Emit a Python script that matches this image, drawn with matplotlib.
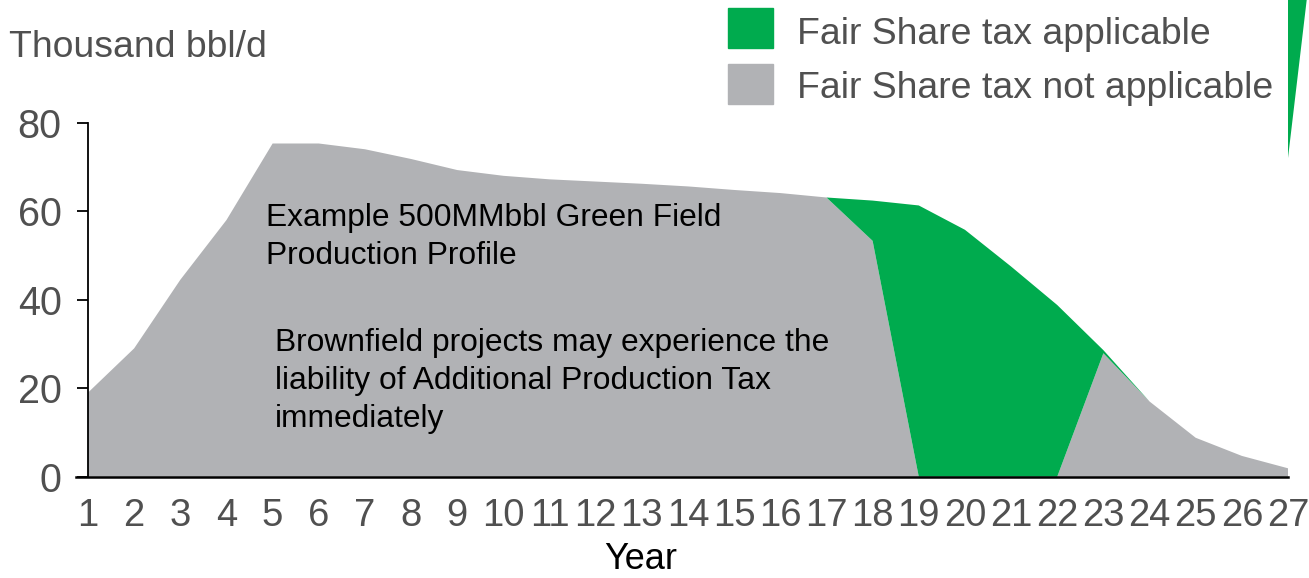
import numpy as np
import matplotlib.pyplot as plt
from matplotlib.patches import Rectangle, Polygon

plt.rcParams['font.family'] = ['Liberation Sans', 'DejaVu Sans']

W, H = 1309, 578

years = list(range(1, 28))
total = [19, 29, 44.5, 58, 75.3, 75.3, 74, 71.8, 69.3, 68, 67.2, 66.7, 66.2, 65.6,
         64.8, 64.1, 63.1, 62.4, 61.3, 55.8, 47.5, 38.8, 28.6, 17, 8.8, 4.7, 1.9]
not_applicable = [19, 29, 44.5, 58, 75.3, 75.3, 74, 71.8, 69.3, 68, 67.2, 66.7, 66.2, 65.6,
                  64.8, 64.1, 63.1, 53.3, 0, 0, 0, 0, 27.9, 17, 8.8, 4.7, 1.9]
applicable = [t - n for t, n in zip(total, not_applicable)]

green = '#00AB4E'
grey = '#B1B2B5'
txt_grey = '#505050'

fig = plt.figure(figsize=(W / 100, H / 100), dpi=100)
ax = fig.add_axes([88 / W, 1 - 476.7 / H, 1200 / W, 354 / H])

ax.stackplot(years, not_applicable, applicable, colors=[grey, green], linewidth=0)
ax.set_xlim(1, 27)
ax.set_ylim(0, 80)
ax.set_xticks(years)
ax.set_yticks([0, 20, 40, 60, 80])
ax.tick_params(axis='x', length=0, pad=15, labelsize=27.5, labelcolor=txt_grey)
ax.tick_params(axis='y', length=8, width=1.3, pad=11, labelsize=28.5, labelcolor=txt_grey)
for s in ['top', 'right']:
    ax.spines[s].set_visible(False)
ax.spines['left'].set_linewidth(1.3)
ax.spines['bottom'].set_linewidth(1.8)
ax.spines['bottom'].set_bounds(0.75, 27)
ax.set_axisbelow(False)

def px(x, y):
    return x / W, 1 - y / H

fig.text(*px(9, 56.7), 'Thousand bbl/d', fontsize=26.9, color=txt_grey, va='baseline', ha='left')
fig.text(*px(641, 569), 'Year', fontsize=26, color='black', va='baseline', ha='center')

ann1 = ['Example 500MMbbl Green Field', 'Production Profile']
ann2 = ['Brownfield projects may experience the', 'liability of Additional Production Tax',
        'immediately']
for i, line in enumerate(ann1):
    fig.text(*px(266, 226 + 38.3 * i), line, fontsize=22.9, color='black', va='baseline')
for i, line in enumerate(ann2):
    fig.text(*px(275, 350.7 + 38.3 * i), line, fontsize=22.9, color='black', va='baseline')

# legend
fig.add_artist(Rectangle(px(728, 48), 45 / W, 40 / H, transform=fig.transFigure, color=green))
fig.add_artist(Rectangle(px(728, 104), 45 / W, 40 / H, transform=fig.transFigure, color=grey))
fig.text(*px(797, 43.5), 'Fair Share tax applicable', fontsize=26.9, color=txt_grey, va='baseline')
fig.text(*px(797, 98.5), 'Fair Share tax not applicable', fontsize=26.9, color=txt_grey, va='baseline')

# cropped shape at top right
fig.add_artist(Polygon([px(1288, 0), px(1306.7, 0), px(1288, 158)], closed=True,
                       transform=fig.transFigure, color=green, lw=0))

fig.savefig('out.png', dpi=100)
